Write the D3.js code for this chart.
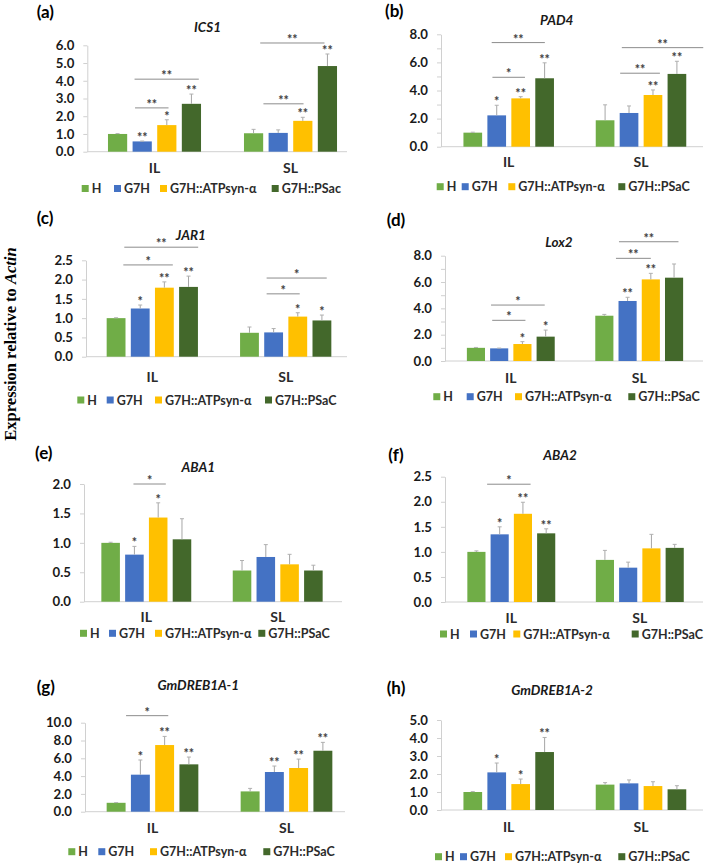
<!DOCTYPE html>
<html><head><meta charset="utf-8">
<script src="https://cdn.jsdelivr.net/npm/d3@7/dist/d3.min.js"></script>
<style>body{margin:0;background:#fff}svg{display:block}</style>
</head><body><svg id="c" width="709" height="866"></svg>
<script>
// ---------- DATA ----------
const groups = ["IL", "SL"];
const seriesNames = ["H", "G7H", "G7H::ATPsyn-α", "G7H::PSaC"];
const seriesNamesA = ["H", "G7H", "G7H::ATPsyn-α", "G7H::PSac"];
const colors = ["#70AD47", "#4472C4", "#FFC000", "#43682B"];
const panelLetters = ["(a)", "(b)", "(c)", "(d)", "(e)", "(f)", "(g)", "(h)"];
const genes = ["ICS1", "PAD4", "JAR1", "Lox2", "ABA1", "ABA2", "GmDREB1A-1", "GmDREB1A-2"];
const yAxisTitle = "Expression relative to ";
const yAxisTitleItalic = "Actin";

const ticksA = [0, 1, 2, 3, 4, 5, 6];
const ticksB = [0, 2, 4, 6, 8];
const ticksC = [0, 0.5, 1, 1.5, 2, 2.5];
const ticksD = [0, 2, 4, 6, 8];
const ticksE = [0, 0.5, 1, 1.5, 2];
const ticksF = [0, 0.5, 1, 1.5, 2, 2.5];
const ticksG = [0, 2, 4, 6, 8, 10];
const ticksH = [0, 1, 2, 3, 4, 5];
const minorTicks8 = [1, 3, 5, 7];

// values [IL][series], [SL][series]
const ics1 = [[1.0, 0.58, 1.5, 2.7], [1.04, 1.06, 1.74, 4.83]];
const ics1Err = [[0.02, 0.02, 0.3, 0.55], [0.22, 0.17, 0.2, 0.68]];
const ics1Stars = [["", "**", "*", "**"], ["", "", "**", "**"]];
const ics1Brackets = [[0, 0.69, 3.3, 4.09, "**"], [0, 0.71, 2.07, 2.47, "**"], [1, 0.27, 2.88, 6.13, "**"], [1, 0.4, 2.03, 2.7, "**"]];

const pad4 = [[1.0, 2.23, 3.44, 4.87], [1.88, 2.4, 3.68, 5.18]];
const pad4Err = [[0.03, 0.72, 0.12, 1.1], [1.1, 0.5, 0.36, 0.9]];
const pad4Stars = [["", "*", "**", "**"], ["", "", "**", "**"]];
const pad4Brackets = [[0, 0.79, 3.01, 7.41, "**"], [0, 0.82, 2.18, 4.94, "*"], [1, 0.7, 4.1, 7.05, "**"], [1, 0.63, 2.29, 5.23, "**"]];

const jar1 = [[1.0, 1.25, 1.79, 1.81], [0.62, 0.63, 1.04, 0.94]];
const jar1Err = [[0.01, 0.09, 0.15, 0.28], [0.15, 0.1, 0.1, 0.14]];
const jar1Stars = [["", "*", "**", "**"], ["", "", "*", "*"]];
const jar1Brackets = [[0, 0.34, 3.4, 2.84, "**"], [0, 0.3, 2.35, 2.38, "*"], [1, 0.71, 3.2, 2.04, "*"], [1, 0.71, 2.08, 1.63, "*"]];

const lox2 = [[1.0, 0.96, 1.29, 1.85], [3.44, 4.56, 6.2, 6.33]];
const lox2Err = [[0.03, 0.02, 0.18, 0.5], [0.1, 0.28, 0.46, 1.04]];
const lox2Stars = [["", "", "*", "*"], ["", "**", "**", ""]];
const lox2Brackets = [[0, 0.65, 2.96, 4.25, "*"], [0, 0.7, 2.13, 3.09, "*"], [1, 0.63, 3.19, 9.06, "**"], [1, 0.5, 2.0, 7.8, "**"]];

const aba1 = [[1.0, 0.8, 1.43, 1.06], [0.53, 0.76, 0.635, 0.53]];
const aba1Err = [[0.01, 0.14, 0.25, 0.35], [0.17, 0.21, 0.17, 0.09]];
const aba1Stars = [["", "*", "*", ""], ["", "", "", ""]];
const aba1Brackets = [[0, 0.96, 2.32, 2.0, "*"]];

const aba2 = [[1.0, 1.35, 1.76, 1.37], [0.84, 0.685, 1.07, 1.08]];
const aba2Err = [[0.02, 0.15, 0.23, 0.09], [0.19, 0.11, 0.28, 0.07]];
const aba2Stars = [["", "*", "**", "**"], ["", "", "", ""]];
const aba2Brackets = [[0, 0.46, 2.33, 2.35, "*"]];

const dreb1 = [[1.0, 4.16, 7.49, 5.32], [2.28, 4.46, 4.91, 6.85]];
const dreb1Err = [[0.02, 1.65, 0.97, 0.82], [0.34, 0.67, 1.0, 0.94]];
const dreb1Stars = [["", "*", "**", "**"], ["", "**", "**", "**"]];
const dreb1Brackets = [[0, 0.41, 2.15, 10.79, "*"]];

const dreb2 = [[1.0, 2.09, 1.44, 3.22], [1.41, 1.48, 1.33, 1.15]];
const dreb2Err = [[0.02, 0.52, 0.28, 0.81], [0.11, 0.19, 0.24, 0.2]];
const dreb2Stars = [["", "*", "*", "**"], ["", "", "", ""]];
const dreb2Brackets = [];

const panelData = [
  {vals: ics1, err: ics1Err, stars: ics1Stars, br: ics1Brackets, ticks: ticksA, minor: [], names: seriesNamesA},
  {vals: pad4, err: pad4Err, stars: pad4Stars, br: pad4Brackets, ticks: ticksB, minor: minorTicks8, names: seriesNames},
  {vals: jar1, err: jar1Err, stars: jar1Stars, br: jar1Brackets, ticks: ticksC, minor: [], names: seriesNames},
  {vals: lox2, err: lox2Err, stars: lox2Stars, br: lox2Brackets, ticks: ticksD, minor: minorTicks8, names: seriesNames},
  {vals: aba1, err: aba1Err, stars: aba1Stars, br: aba1Brackets, ticks: ticksE, minor: [], names: seriesNames},
  {vals: aba2, err: aba2Err, stars: aba2Stars, br: aba2Brackets, ticks: ticksF, minor: [], names: seriesNames},
  {vals: dreb1, err: dreb1Err, stars: dreb1Stars, br: dreb1Brackets, ticks: ticksG, minor: [], names: seriesNames},
  {vals: dreb2, err: dreb2Err, stars: dreb2Stars, br: dreb2Brackets, ticks: ticksH, minor: [], names: seriesNames}
];

// ---------- LAYOUT ----------
const layout = [
  {ax: 87.3, axR: 347, y0: 151.7, yT: 45.3, ic: 154.5, sc: 290.5, lx: 36.7, ly: 17.5, tx: 207.5, ty: 31.7, cat: 173.3, legY: 188.5, legX: [91.7, 124, 170, 281.7]},
  {ax: 441, axR: 703, y0: 146.7, yT: 34.3, ic: 508.7, sc: 641, lx: 385, ly: 17, tx: 556.7, ty: 25, cat: 166.7, legY: 186.7, legX: [446.7, 471.7, 518.3, 628.3]},
  {ax: 86, axR: 347, y0: 356.7, yT: 260.3, ic: 152.3, sc: 285.7, lx: 36.7, ly: 224.3, tx: 190.8, ty: 240, cat: 381.7, legY: 400, legX: [87.3, 116.7, 165, 275]},
  {ax: 445, axR: 703, y0: 361, yT: 255.7, ic: 510.8, sc: 639.2, lx: 386.7, ly: 225.6, tx: 559, ty: 246.7, cat: 383.3, legY: 396.7, legX: [443.3, 476.7, 525, 638.3]},
  {ax: 84, axR: 342, y0: 601.7, yT: 484, ic: 146.3, sc: 277.7, lx: 35, ly: 459.3, tx: 198.3, ty: 471.7, cat: 621.7, legY: 633.3, legX: [90, 119, 165, 268.3]},
  {ax: 445, axR: 703, y0: 602, yT: 476.7, ic: 511.3, sc: 639.8, lx: 388.3, ly: 460.6, tx: 560, ty: 460, cat: 623.3, legY: 634, legX: [450, 480, 523.3, 641.7]},
  {ax: 85, axR: 345, y0: 811.7, yT: 722.7, ic: 152.5, sc: 286.5, lx: 36.7, ly: 692.6, tx: 198.3, ty: 690, cat: 833.3, legY: 851.7, legX: [78.3, 108.3, 160, 273.3]},
  {ax: 441, axR: 703, y0: 810, yT: 720, ic: 508.7, sc: 641, lx: 386.7, ly: 694.3, tx: 552, ty: 695, cat: 831.7, legY: 856.7, legX: [445, 470, 515, 628.3]}
];

const FONT = "Lato, 'Open Sans', 'Liberation Sans', sans-serif";
const TXT = "#2b2b2b";
const AXC = "#d0d0d0";
const fmt = d3.format(".1f");
const svg = d3.select("#c");

panelData.forEach((p, i) => {
  const L = layout[i];
  const g = svg.append("g");
  const yMax = d3.max(p.ticks);
  const y = d3.scaleLinear().domain([0, yMax]).range([L.y0, L.yT]);
  const band = L.sc - L.ic;
  const xg = d3.scaleBand().domain(groups).range([L.ic - band / 2, L.sc + band / 2]);
  const xs = d3.scaleBand().domain(d3.range(4)).range([0, band]).paddingInner(0.22).paddingOuter(0.8725);
  const cx = (gi, s) => xg(groups[gi]) + xs(0) + xs.bandwidth() / 2 + s * xs.step();

  // panel letter
  g.append("text").attr("x", L.lx).attr("y", L.ly).text(panelLetters[i])
    .attr("font-family", FONT).attr("font-weight", 700).attr("font-size", 17).attr("fill", "#000");
  // title
  g.append("text").attr("x", L.tx).attr("y", L.ty).attr("text-anchor", "middle").text(genes[i])
    .attr("font-family", FONT).attr("font-weight", 700).attr("font-style", "italic").attr("font-size", 13.5).attr("fill", "#1a1a1a");

  // y axis
  const ya = g.append("g").attr("transform", `translate(${L.ax},0)`)
    .call(d3.axisLeft(y).tickValues(p.ticks).tickFormat(fmt).tickSize(4).tickSizeOuter(0).tickPadding(9));
  ya.select(".domain").attr("stroke", AXC);
  ya.selectAll(".tick line").attr("stroke", AXC);
  ya.selectAll(".tick text").attr("font-family", FONT).attr("font-weight", 700).attr("font-size", 13.2).attr("fill", "#1a1a1a");
  if (p.minor.length) {
    const ym = g.append("g").attr("transform", `translate(${L.ax},0)`)
      .call(d3.axisLeft(y).tickValues(p.minor).tickFormat("").tickSize(4).tickSizeOuter(0));
    ym.select(".domain").remove();
    ym.selectAll(".tick line").attr("stroke", AXC);
  }
  // x baseline
  g.append("line").attr("x1", L.ax).attr("x2", L.axR).attr("y1", y(0)).attr("y2", y(0)).attr("stroke", AXC).attr("stroke-width", 1);

  // category labels
  groups.forEach((gr) => {
    g.append("text").attr("x", xg(gr) + xg.bandwidth() / 2).attr("y", L.cat).attr("text-anchor", "middle").text(gr)
      .attr("font-family", FONT).attr("font-weight", 700).attr("font-size", 14).attr("fill", TXT);
  });

  // bars, error bars, stars
  p.vals.forEach((row, gi) => {
    row.forEach((v, si) => {
      const x = xg(groups[gi]) + xs(si);
      const w = xs.bandwidth();
      g.append("rect").attr("x", x).attr("y", y(v)).attr("width", w).attr("height", y(0) - y(v)).attr("fill", colors[si]);
      const e = p.err[gi][si];
      const c = x + w / 2;
      const yt = y(v + e);
      g.append("line").attr("x1", c).attr("x2", c).attr("y1", y(v)).attr("y2", yt).attr("stroke", "#a6a6a6").attr("stroke-width", 1);
      g.append("line").attr("x1", c - 2).attr("x2", c + 2).attr("y1", yt).attr("y2", yt).attr("stroke", "#b0b0b0").attr("stroke-width", 1);
      const st = p.stars[gi][si];
      if (st) {
        g.append("text").attr("x", c).attr("y", yt + 1).attr("text-anchor", "middle").text(st)
          .attr("font-family", FONT).attr("font-weight", 700).attr("font-size", 12.5).attr("fill", "#404040");
      }
    });
  });

  // significance brackets
  p.br.forEach(b => {
    const xa = cx(b[0], b[1]), xb = cx(b[0], b[2]), yy = y(b[3]);
    g.append("line").attr("x1", xa).attr("x2", xb).attr("y1", yy).attr("y2", yy).attr("stroke", "#8c8c8c").attr("stroke-width", 1);
    g.append("text").attr("x", (xa + xb) / 2).attr("y", yy + 1).attr("text-anchor", "middle").text(b[4])
      .attr("font-family", FONT).attr("font-weight", 700).attr("font-size", 12.5).attr("fill", "#404040");
  });

  // legend
  p.names.forEach((nm, si) => {
    const tx = L.legX[si];
    g.append("rect").attr("x", tx - 10).attr("y", L.legY - 3.5).attr("width", 7).attr("height", 7).attr("fill", colors[si]);
    g.append("text").attr("x", tx).attr("y", L.legY + 4.5).text(nm)
      .attr("font-family", FONT).attr("font-weight", 700).attr("font-size", 12.5).attr("fill", TXT);
  });
});

// global y-axis title
const yt = svg.append("text").attr("transform", "translate(15.5,344) rotate(-90)").attr("text-anchor", "middle")
  .attr("font-family", "'Liberation Serif', 'Times New Roman', serif").attr("font-weight", 700).attr("font-size", 16.5).attr("fill", "#000");
yt.append("tspan").text(yAxisTitle);
yt.append("tspan").attr("font-style", "italic").text(yAxisTitleItalic);
</script>
</body></html>
